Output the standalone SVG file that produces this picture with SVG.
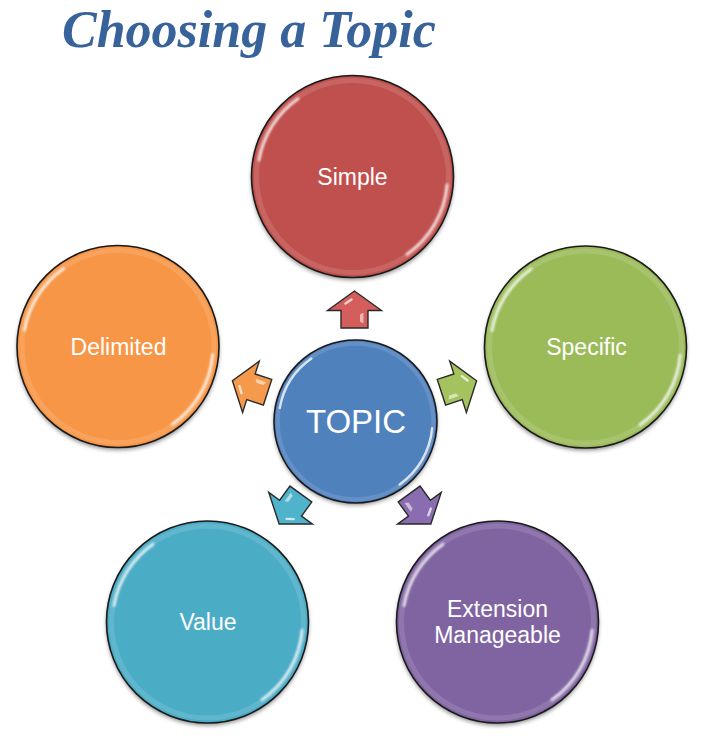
<svg xmlns="http://www.w3.org/2000/svg" xmlns:xlink="http://www.w3.org/1999/xlink" width="727" height="745" viewBox="0 0 727 745">
<style>
.title{font-family:"Liberation Serif","Times New Roman",serif;font-weight:bold;font-style:italic;font-size:52px;fill:#38629A}
.lbl{font-family:"Liberation Sans",Arial,sans-serif;font-size:23px;fill:#ffffff;text-anchor:middle}
.big{font-family:"Liberation Sans",Arial,sans-serif;font-size:33px;fill:#ffffff;text-anchor:middle}
.ring{stroke:#1a1a1a;stroke-width:1.6}
.gl{fill:none;stroke:#ffffff;stroke-width:3;stroke-linecap:round;opacity:0.75}
.rim{fill:none;stroke:#ffffff;stroke-width:5;opacity:0.12}
.arr{stroke:#2a2a2a;stroke-width:1.4;stroke-linejoin:miter}
.hl{fill:#ffffff;opacity:0.55}
</style>
<defs>
<filter id="blur" x="-20%" y="-20%" width="140%" height="140%"><feGaussianBlur stdDeviation="2"/></filter>
<filter id="soft" x="-20%" y="-20%" width="140%" height="140%"><feGaussianBlur stdDeviation="0.8"/></filter>
<g id="gloss">
<circle r="96" class="rim"/>
<path class="gl" filter="url(#soft)" d="M -93.5 -16.5 A 95 95 0 0 1 -54.5 -77.8"/>
<path class="gl" filter="url(#soft)" d="M 94.6 8.3 A 95 95 0 0 1 54.5 77.8"/>
</g>
<polygon id="arrowShape" points="18.5,0 -1,-27 -1,-13.5 -18.5,-13.5 -18.5,13.5 -1,13.5 -1,27"/>
<g id="arrowHl">
<polygon class="hl" points="-14,9 -3,9 -5,5.5 -12,5.5"/>
<path d="M 6 -9 L 10 -3" stroke="#ffffff" stroke-width="2.4" stroke-linecap="round" opacity="0.7"/>
</g>
</defs>
<rect width="727" height="745" fill="#ffffff"/>
<text class="title" x="62" y="47">Choosing a Topic</text>

<g id="connectors">
<g id="arrow-simple" transform="translate(354.5,309.5) rotate(-90)"><use xlink:href="#arrowShape" class="arr" fill="#D45E5B"/><use xlink:href="#arrowHl"/></g>
<g id="arrow-specific" transform="translate(459,386.5) rotate(-18)"><use xlink:href="#arrowShape" class="arr" fill="#A4C35E"/><use xlink:href="#arrowHl"/></g>
<g id="arrow-extension" transform="translate(420,509) rotate(54)"><use xlink:href="#arrowShape" class="arr" fill="#8A6DB0"/><use xlink:href="#arrowHl"/></g>
<g id="arrow-value" transform="translate(290,509) rotate(126)"><use xlink:href="#arrowShape" class="arr" fill="#4FB3CC"/><use xlink:href="#arrowHl"/></g>
<g id="arrow-delimited" transform="translate(250,386.5) rotate(198)"><use xlink:href="#arrowShape" class="arr" fill="#F5994D"/><use xlink:href="#arrowHl"/></g>
</g>

<g id="node-simple">
<circle cx="352.5" cy="179" r="101" fill="#000" opacity="0.45" filter="url(#blur)"/>
<circle cx="352.5" cy="176.5" r="101" fill="#C0504D" class="ring"/>
<use xlink:href="#gloss" transform="translate(352.5,176.5)"/>
<text class="lbl" x="352.5" y="185">Simple</text>
</g>

<g id="node-specific">
<circle cx="585.5" cy="349.5" r="101" fill="#000" opacity="0.45" filter="url(#blur)"/>
<circle cx="585.5" cy="347" r="101" fill="#9BBB59" class="ring"/>
<use xlink:href="#gloss" transform="translate(585.5,347)"/>
<text class="lbl" x="586.5" y="354.5">Specific</text>
</g>

<g id="node-delimited">
<circle cx="118" cy="349" r="101" fill="#000" opacity="0.45" filter="url(#blur)"/>
<circle cx="118" cy="346.5" r="101" fill="#F79646" class="ring"/>
<use xlink:href="#gloss" transform="translate(118,346.5)"/>
<text class="lbl" x="118.5" y="354.5">Delimited</text>
</g>

<g id="node-value">
<circle cx="207.5" cy="624.5" r="101" fill="#000" opacity="0.45" filter="url(#blur)"/>
<circle cx="207.5" cy="622" r="101" fill="#4BACC6" class="ring"/>
<use xlink:href="#gloss" transform="translate(207.5,622)"/>
<text class="lbl" x="208" y="630">Value</text>
</g>

<g id="node-extension">
<circle cx="497.5" cy="624.5" r="101" fill="#000" opacity="0.45" filter="url(#blur)"/>
<circle cx="497.5" cy="622" r="101" fill="#8064A2" class="ring"/>
<use xlink:href="#gloss" transform="translate(497.5,622)"/>
<text class="lbl" x="497.5" y="616.5">Extension</text>
<text class="lbl" x="497.5" y="642.5">Manageable</text>
</g>

<g id="node-topic">
<circle cx="355.5" cy="423.5" r="81.5" fill="#000" opacity="0.45" filter="url(#blur)"/>
<circle cx="355.5" cy="421.5" r="81.5" fill="#4F81BD" class="ring"/>
<use xlink:href="#gloss" transform="translate(355.5,421.5) scale(0.81)"/>
<text class="big" x="356" y="433">TOPIC</text>
</g>
</svg>
